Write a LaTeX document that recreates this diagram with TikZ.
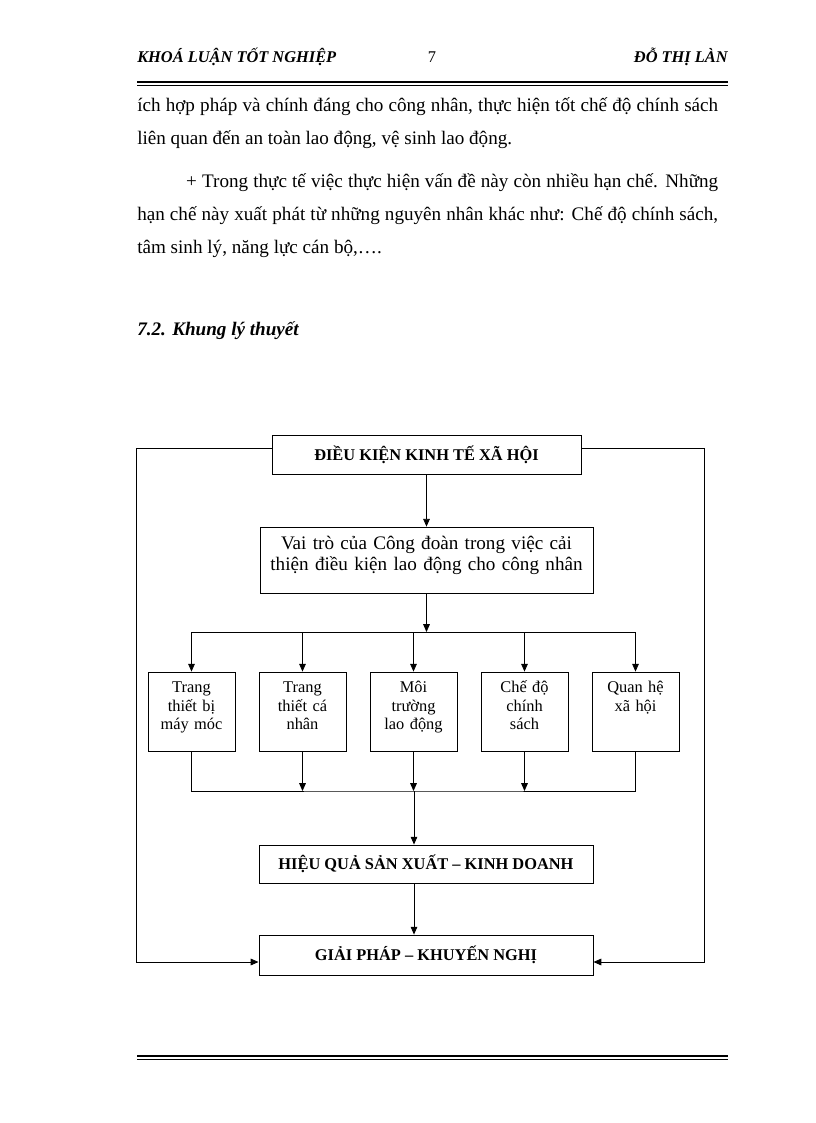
\documentclass[tikz,border=0pt]{standalone}
\usepackage{fontspec}
\setmainfont{Liberation Serif}
\usetikzlibrary{arrows.meta, positioning, calc}

\begin{document}
\begin{tikzpicture}[x=0.25735mm, y=-0.25735mm,
    every node/.style={inner sep=0pt},
    box/.style={draw, line width=0.6pt, align=center},
    capbox/.style={box, font=\fontsize{12}{14}\selectfont\bfseries, minimum width=86mm},
    small/.style={box, font=\fontsize{12}{13.2}\selectfont, text width=22.4mm, text height=5.4mm, text depth=14.93mm},
    para/.style={text width=149.5mm, align=justify, anchor=base west, font=\fontsize{14}{24.1}\selectfont},
    arr/.style={-{Triangle[length=2mm, width=1.7mm]}, line width=0.6pt},
    wire/.style={line width=0.6pt}]
    \useasboundingbox[fill=white] (0,0) rectangle (816,1123);
    % page header and footer
    \node[anchor=base west, font=\fontsize{12}{14}\selectfont\bfseries\itshape] (title) at (137,63) {KHOÁ LUẬN TỐT NGHIỆP};
    \node[anchor=base, font=\fontsize{12}{14}\selectfont] (page) at (432,63) {7};
    \node[anchor=base east, font=\fontsize{12}{14}\selectfont\bfseries\itshape] (author) at (728,63) {ĐỖ THỊ LÀN};
    \draw[line width=0.8pt] (137,82) -- (728,82);
    \draw[line width=0.5pt] (137,85.5) -- (728,85.5);
    \draw[line width=0.8pt] (137,1056) -- (728,1056);
    \draw[line width=0.5pt] (137,1059.5) -- (728,1059.5);
    % text
    \node[para] (p1) at (137,112) {ích hợp pháp và chính đáng cho công nhân, thực hiện tốt chế độ chính sách\linebreak liên quan đến an toàn lao động, vệ sinh lao động.};
    \node[para] (p2) at (137,188) {\hspace*{12.6mm}+ Trong thực tế việc thực hiện vấn đề này còn nhiều hạn chế. Những\linebreak hạn chế này xuất phát từ những nguyên nhân khác như: Chế độ chính sách,\linebreak tâm sinh lý, năng lực cán bộ,….};
    \node[anchor=base west, font=\fontsize{14}{16}\selectfont\bfseries\itshape] (head) at (137,335) {7.2. Khung lý thuyết};
    % diagram
    \node[capbox, minimum width=79.5mm, minimum height=10mm] (dk) at (426.5,454.5) {ĐIỀU KIỆN KINH TẾ XÃ HỘI};
    \node[box, font=\fontsize{14}{15.6}\selectfont, text width=85.7mm, text height=5.66mm, text depth=11.3mm] (vaitro) at (426.5,560) {Vai trò của Công đoàn trong việc cải\\thiện điều kiện lao động cho công nhân};
    \foreach \i/\x/\t in {1/191.5/{Trang\\thiết bị\\máy móc}, 2/302.5/{Trang\\thiết cá\\nhân}, 3/413.5/{Môi\\trường\\lao động}, 4/524.5/{Chế độ\\chính\\sách}, 5/635.5/{Quan hệ\\xã hội}}
        \node[small] (b\i) at (\x,711.5) {\t};
    \node[capbox, minimum height=9.8mm] (hq) at (426,864) {HIỆU QUẢ SẢN XUẤT – KINH DOANH};
    \node[capbox, minimum height=10.3mm] (gp) at (426,955) {GIẢI PHÁP – KHUYẾN NGHỊ};
    \coordinate (bustop) at (426.5,632);
    \coordinate (busbot) at (414,791);
    \coordinate (lt) at (136,448);
    \coordinate (rt) at (704,448);
    \coordinate (lx) at (136,962);
    \coordinate (rx) at (704,962);
    % connectors
    \draw[arr] (dk.south) -- (vaitro.north);
    \draw[arr] (vaitro.south) -- (bustop);
    \draw[wire] (b1.north |- bustop) -- (b5.north |- bustop);
    \foreach \i in {1,...,5}
        \draw[arr] (b\i.north |- bustop) -- (b\i.north);
    \draw[wire] (b1.south) |- (busbot) -| (b5.south);
    \foreach \i in {2,3,4}
        \draw[arr] (b\i.south) -- (b\i.south |- busbot);
    \draw[arr] (busbot) -- (busbot |- hq.north);
    \draw[arr] (hq.south -| busbot) -- (gp.north -| busbot);
    \draw[arr] (lt -| dk.west) -- (lt) -- (lx) -- (lx -| gp.west);
    \draw[arr] (rt -| dk.east) -- (rt) -- (rx) -- (rx -| gp.east);
\end{tikzpicture}
\end{document}
